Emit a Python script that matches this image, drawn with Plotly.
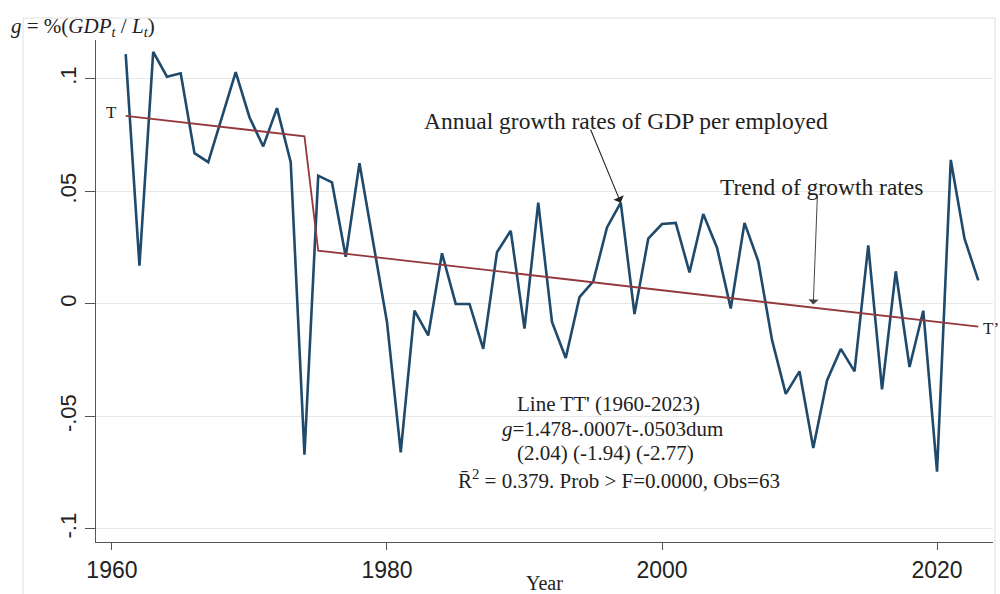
import plotly.graph_objects as go

# Annual growth rate of GDP per employed person
years = list(range(1961, 2024))
growth = [
    0.111, 0.017, 0.112, 0.101, 0.1025, 0.067, 0.063, 0.083, 0.103, 0.083,   # 1961-1970
    0.070, 0.087, 0.063, -0.067, 0.057, 0.054, 0.021, 0.0625, 0.027, -0.008,  # 1971-1980
    -0.066, -0.003, -0.014, 0.0225, 0.0, 0.0, -0.020, 0.023, 0.0325, -0.011,  # 1981-1990
    0.045, -0.008, -0.024, 0.003, 0.010, 0.034, 0.045, -0.0045, 0.029, 0.0355,  # 1991-2000
    0.036, 0.014, 0.040, 0.025, -0.002, 0.036, 0.019, -0.016, -0.040, -0.030,  # 2001-2010
    -0.064, -0.034, -0.020, -0.030, 0.026, -0.038, 0.0145, -0.028, -0.003, -0.0745,  # 2011-2020
    0.064, 0.029, 0.0105,  # 2021-2023
]

# Fitted trend TT' with a level shift (dummy) from 1975
trend_years = [1961, 1974, 1975, 2023]
trend_vals = [0.0836, 0.0745, 0.0237, -0.0101]

y_ticks = [-0.1, -0.05, 0, 0.05, 0.1]
y_tick_text = ["-.1", "-.05", "0", ".05", ".1"]
x_ticks = [1960, 1980, 2000, 2020]

W, H = 1000, 594
L, R, T, B = 96, 7, 40, 52
PW, PH = W - L - R, H - T - B


def px(x):
    return (x - L) / PW


def py(y):
    return (H - B - y) / PH


NAVY = "#1f4a6b"
MAROON = "#93393d"
TXT = "#222222"
SERIF = "Liberation Serif, Times New Roman, serif"
SANS = "Liberation Sans, Arial, sans-serif"

fig = go.Figure()
fig.add_trace(go.Scatter(
    x=years, y=growth, mode="lines",
    line=dict(color=NAVY, width=2.6), hoverinfo="x+y", showlegend=False,
))
fig.add_trace(go.Scatter(
    x=trend_years, y=trend_vals, mode="lines",
    line=dict(color=MAROON, width=1.8), hoverinfo="x+y", showlegend=False,
))

ann = []
# y-axis caption at top-left
ann.append(dict(
    x=px(9), y=py(27), xref="paper", yref="paper", xanchor="left", yanchor="middle",
    text="<i>g</i> = %(<i>GDP<sub>t</sub></i> / <i>L<sub>t</sub></i>)",
    showarrow=False, font=dict(family=SERIF, size=21, color=TXT),
))
# x-axis title
ann.append(dict(
    x=0.5, y=py(583), xref="paper", yref="paper", xanchor="center", yanchor="middle",
    text="Year", showarrow=False, font=dict(family=SERIF, size=20, color=TXT),
))
# line end labels
ann.append(dict(
    x=px(119), y=py(113), xref="paper", yref="paper", xanchor="right", yanchor="middle",
    text="T", showarrow=False, font=dict(family=SERIF, size=17, color=TXT),
))
ann.append(dict(
    x=px(981), y=py(329), xref="paper", yref="paper", xanchor="left", yanchor="middle",
    text="T’", showarrow=False, font=dict(family=SERIF, size=17, color=TXT),
))
# callout texts
ann.append(dict(
    x=px(626), y=py(121), xref="paper", yref="paper", xanchor="center", yanchor="middle",
    text="Annual growth rates of GDP per employed", showarrow=False,
    font=dict(family=SERIF, size=23.5, color=TXT),
))
ann.append(dict(
    x=px(821), y=py(187), xref="paper", yref="paper", xanchor="center", yanchor="middle",
    text="Trend of growth rates", showarrow=False,
    font=dict(family=SERIF, size=23.5, color=TXT),
))
# arrows
ann.append(dict(
    x=1997, y=0.045, ax=1994.76, ay=0.0782, xref="x", yref="y", axref="x", ayref="y",
    text="", showarrow=True, arrowhead=1, arrowsize=1.7, arrowwidth=1.1, arrowcolor="#222222",
))
ann.append(dict(
    x=2011, y=-0.0003, ax=2011.3, ay=0.0484, xref="x", yref="y", axref="x", ayref="y",
    text="", showarrow=True, arrowhead=1, arrowsize=1.7, arrowwidth=1.0, arrowcolor="#444444",
))
# regression summary
reg_lines = [
    ("Line TT' (1960-2023)", 608, 404),
    ("<i>g</i>=1.478-.0007t-.0503dum", 612, 429),
    ("(2.04) (-1.94) (-2.77)", 605, 453),
    ("R\u0304<sup>2</sup> = 0.379. Prob > F=0.0000, Obs=63", 619, 479),
]
for txt, cx, cy in reg_lines:
    ann.append(dict(
        x=px(cx), y=py(cy), xref="paper", yref="paper", xanchor="center", yanchor="middle",
        text=txt, showarrow=False, font=dict(family=SERIF, size=21, color=TXT),
    ))

fig.update_layout(
    width=W, height=H,
    margin=dict(l=L, r=R, t=T, b=B),
    paper_bgcolor="white", plot_bgcolor="white",
    showlegend=False,
    annotations=ann,
    shapes=[dict(
        type="rect", xref="paper", yref="paper", layer="below",
        x0=px(23), x1=px(995), y0=py(600), y1=py(18),
        line=dict(color="#dedede", width=1),
    )],
    xaxis=dict(
        range=[1958.84, 2024.07], tickmode="array", tickvals=x_ticks,
        ticks="outside", ticklen=7, tickwidth=1, tickcolor="#555555",
        showline=True, linecolor="#555555", linewidth=1,
        showgrid=False, zeroline=False,
        tickfont=dict(family=SANS, size=23, color=TXT),
    ),
    yaxis=dict(
        range=[-0.1058, 0.1173], tickmode="array", tickvals=y_ticks, ticktext=y_tick_text,
        tickangle=-90,
        ticks="outside", ticklen=10, tickwidth=1, tickcolor="#555555",
        showline=True, linecolor="#555555", linewidth=1,
        showgrid=True, gridcolor="#e8e8e8", gridwidth=1, zeroline=False,
        tickfont=dict(family=SANS, size=22, color=TXT),
    ),
)

fig.write_html("out.html")
